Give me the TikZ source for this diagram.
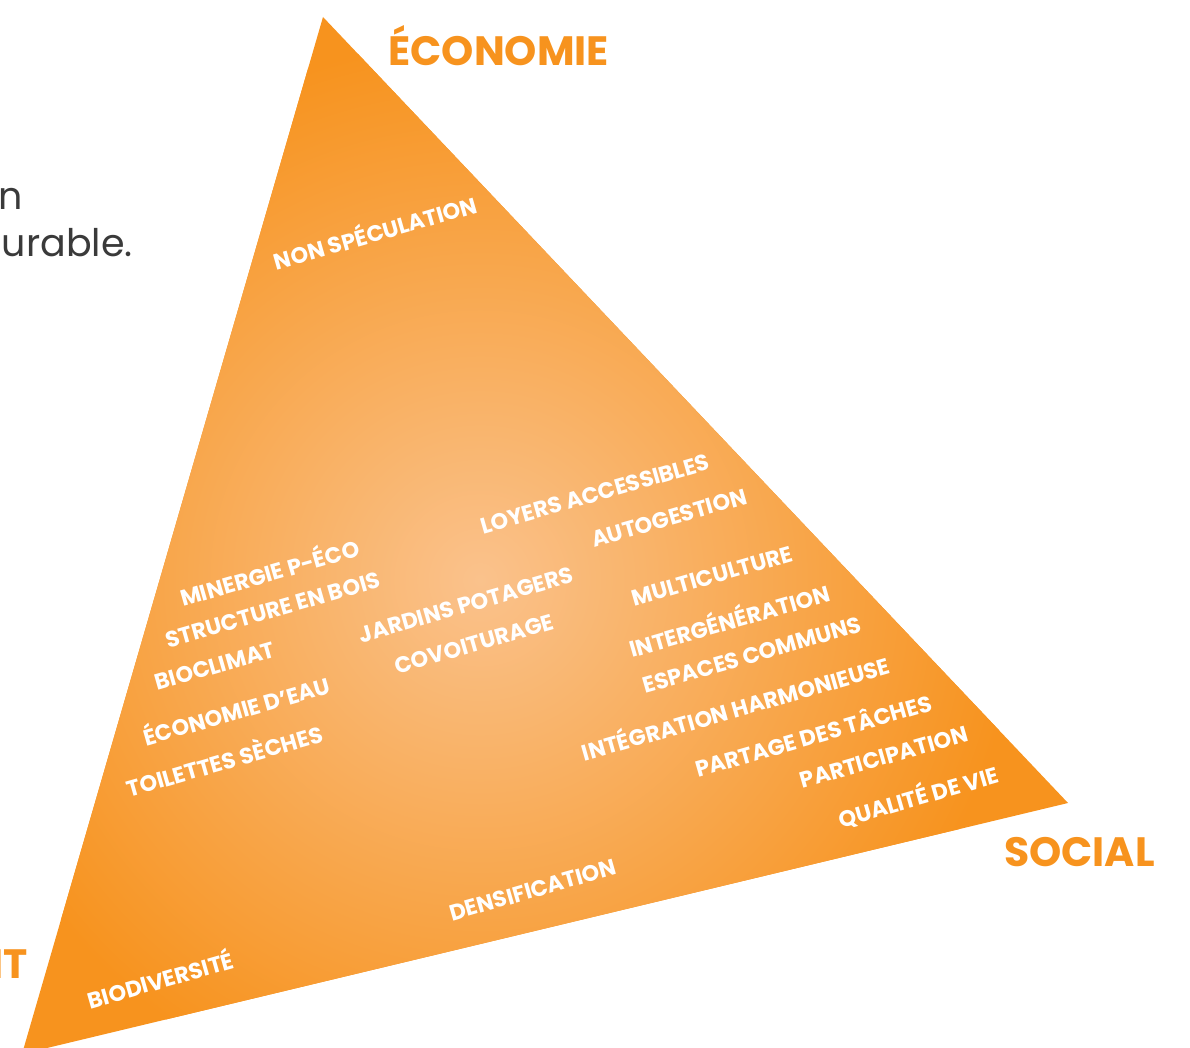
\documentclass[tikz,border=0pt]{standalone}
\usepackage{fontspec}
\setmainfont{Poppins}
\usetikzlibrary{positioning}
\definecolor{orangeP}{HTML}{F7931E}
\definecolor{orangeL}{HTML}{FAC28C}
\definecolor{grisT}{HTML}{3A3A3A}

\begin{document}
\begin{tikzpicture}[x=0.5pt,y=-0.5pt,
    tag/.style={text=white,font=\bfseries\fontsize{11.2}{12}\selectfont,rotate=16,inner sep=0pt},
    pole/.style={text=orangeP,font=\bfseries\fontsize{20.5}{24}\selectfont,inner sep=0pt},
    para/.style={text=grisT,font=\fontsize{19}{22}\selectfont,inner sep=0pt,anchor=base east}]
    \useasboundingbox (0,0) rectangle (1190,1048);

    % triangle
    \begin{scope}
        \clip (0,0) rectangle (1190,1048);
        \fill[orangeP] (323,17) -- (1068,803) -- (22,1054) -- cycle;
        \clip (323,17) -- (1068,803) -- (22,1054) -- cycle;
        \shade[inner color=orangeL,outer color=orangeP] (480,580) circle (270pt);
    \end{scope}

    % poles
    \node[pole,anchor=base west] (eco) at (388,66) {ÉCONOMIE};
    \node[pole,anchor=base east] (soc) at (1155,866) {SOCIAL};
    \node[pole,anchor=base east] (env) at (28,978) {IT};

    \node[para] (txta) at (23,210) {n};
    \node[para] (txtb) at (133,257) {urable.};

    % themes
    \node[tag] (spec) at (375,231) {NON SPÉCULATION};
    \node[tag] (loyer) at (595,494) {LOYERS ACCESSIBLES};
    \node[tag] (autog) at (669,518) {AUTOGESTION};
    \node[tag] (miner) at (269,571) {MINERGIE P-ÉCO};
    \node[tag] (bois) at (273,610) {STRUCTURE EN BOIS};
    \node[tag] (jard) at (466,605) {JARDINS POTAGERS};
    \node[tag] (biocl) at (215,666) {BIOCLIMAT};
    \node[tag] (covoit) at (474,644) {COVOITURAGE};
    \node[tag] (eau) at (236,709) {ÉCONOMIE D’EAU};
    \node[tag] (toil) at (224,759) {TOILETTES SÈCHES};
    \node[tag] (multi) at (712,576) {MULTICULTURE};
    \node[tag] (interg) at (729,619) {INTERGÉNÉRATION};
    \node[tag] (espac) at (752,655) {ESPACES COMMUNS};
    \node[tag] (integ) at (735,707) {INTÉGRATION HARMONIEUSE};
    \node[tag] (parta) at (813,734) {PARTAGE DES TÂCHES};
    \node[tag] (parti) at (884,757) {PARTICIPATION};
    \node[tag] (qual) at (918,796) {QUALITÉ DE VIE};
    \node[tag] (dens) at (533,890) {DENSIFICATION};
    \node[tag] (biodiv) at (160,978) {BIODIVERSITÉ};
\end{tikzpicture}
\end{document}
